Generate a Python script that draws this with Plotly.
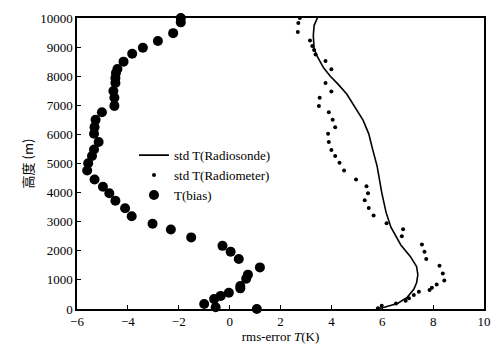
import plotly.graph_objects as go

# Data
sonde_T = [5.76, 6.08, 6.60, 6.98, 7.24, 7.35, 7.40, 7.35, 7.11, 6.73, 6.34, 6.15, 5.98, 5.89,
           5.80, 5.63, 5.47, 5.25, 4.93, 4.61, 4.28, 3.96, 3.70, 3.45, 3.32, 3.29, 3.32, 3.45]
sonde_h = [0, 60, 190, 400, 680, 900, 1180, 1460, 1800, 2200, 2810, 3320, 4000, 4450,
           4900, 5460, 6020, 6480, 6930, 7380, 7710, 8000, 8280, 8670, 8950, 9400, 9740, 10000]

rad_T = [5.83, 5.98, 6.54, 6.92, 7.05, 7.24, 7.44, 7.86, 7.95, 8.14, 8.44, 8.38, 8.25, 7.73,
         7.66, 7.56, 6.77, 6.82, 6.17, 5.66, 5.47, 5.31, 5.44, 5.38, 4.97, 4.50, 4.32, 4.15,
         4.00, 3.90, 3.87, 4.15, 4.05, 3.90, 3.51, 3.54, 4.00, 3.77, 4.00, 3.77, 3.38, 3.32,
         3.25, 3.16, 2.68, 2.70, 2.76]
rad_h = [30, 110, 190, 280, 370, 480, 590, 650, 730, 840, 980, 1220, 1490, 1720,
         1970, 2220, 2500, 2740, 2950, 3210, 3470, 3740, 3980, 4220, 4450, 4760, 5030, 5260,
         5460, 5740, 6020, 6250, 6500, 6760, 6980, 7260, 7470, 7770, 8240, 8520, 8750, 8900,
         9040, 9230, 9520, 9830, 10000]

bias_T = [1.07, -0.55, -1.00, -0.61, -0.35, -0.03, 0.42, 0.42, 0.65, 0.72, 1.19, 0.36, 0.04,
          -0.28, -1.51, -2.31, -3.03, -3.85, -4.11, -4.49, -4.73, -4.98, -5.31, -5.60, -5.56,
          -5.41, -5.33, -5.15, -5.33, -5.31, -5.27, -5.02, -4.53, -4.53, -4.57, -4.49, -4.49,
          -4.47, -4.41, -4.17, -3.83, -3.41, -2.82, -2.22, -1.92, -1.92]
bias_h = [0, 60, 170, 340, 450, 560, 710, 790, 1040, 1180, 1430, 1720, 1970,
          2170, 2460, 2730, 2930, 3190, 3460, 3720, 3980, 4200, 4450, 4760, 5010,
          5260, 5480, 5740, 6020, 6250, 6500, 6760, 6980, 7260, 7490, 7770, 7940,
          8110, 8250, 8500, 8770, 8975, 9210, 9480, 9850, 10000]

x_ticks = [-6, -4, -2, 0, 2, 4, 6, 8, 10]
x_labels = ["\u22126", "\u22124", "\u22122", "0", "2", "4", "6", "8", "10"]
y_ticks = list(range(0, 10001, 1000))
y_labels = [str(v) for v in y_ticks]

serif = "Liberation Serif, Times New Roman, serif"

fig = go.Figure()
fig.add_trace(go.Scatter(x=sonde_T, y=sonde_h, mode="lines", name="std T(Radiosonde)",
                         line=dict(color="black", width=1.6), cliponaxis=False))
fig.add_trace(go.Scatter(x=rad_T, y=rad_h, mode="markers", name="std T(Radiometer)",
                         marker=dict(color="black", size=4), cliponaxis=False))
fig.add_trace(go.Scatter(x=bias_T, y=bias_h, mode="markers", name="T(bias)",
                         marker=dict(color="black", size=10), cliponaxis=False))

fig.update_layout(
    width=502, height=351,
    margin=dict(l=77, r=11, t=18, b=36),
    paper_bgcolor="white", plot_bgcolor="white",
    font=dict(family=serif, color="black", size=13),
    showlegend=True,
    legend=dict(x=0.14, y=0.58, xanchor="left", yanchor="top",
                bgcolor="rgba(0,0,0,0)", font=dict(family=serif, size=13),
                itemsizing="trace", tracegroupgap=0, itemwidth=30),
    xaxis=dict(range=[-6, 10], tickvals=x_ticks, ticktext=x_labels,
               showgrid=False, zeroline=False, showline=True, linecolor="black",
               linewidth=1.5, mirror=True, ticks="inside", ticklen=4, tickcolor="black",
               tickfont=dict(family=serif, size=13),
               title=dict(text="rms-error <i>T</i>(K)", font=dict(family=serif, size=13),
                          standoff=2)),
    yaxis=dict(range=[0, 10000], tickvals=y_ticks, ticktext=y_labels,
               showgrid=False, zeroline=False, showline=True, linecolor="black",
               linewidth=1.5, mirror=True, ticks="inside", ticklen=4, tickcolor="black",
               tickfont=dict(family=serif, size=13),
               title=dict(text="高度 (m)", font=dict(family="Noto Sans CJK SC, serif", size=13),
                          standoff=4)),
)

fig.write_html("out.html")
